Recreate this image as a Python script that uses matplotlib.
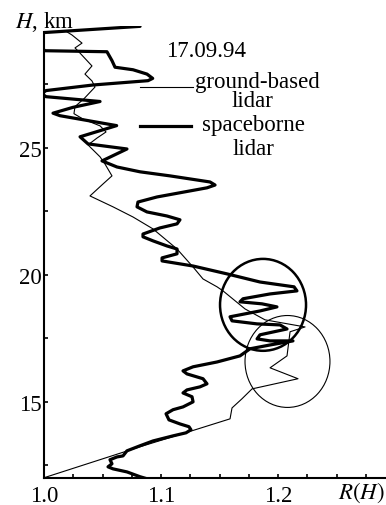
import matplotlib
matplotlib.use("Agg")
import matplotlib.pyplot as plt
from matplotlib.patches import Ellipse
from matplotlib.lines import Line2D
from matplotlib.ticker import MultipleLocator

plt.rcParams['font.family'] = ['Liberation Serif', 'DejaVu Serif']
plt.rcParams['mathtext.fontset'] = 'stix'

# ground-based lidar profile: scattering ratio R vs altitude H (km)
ground_R = [1.0197, 1.0239, 1.0325, 1.0265, 1.0299, 1.0410, 1.0350, 1.0410,
            1.0436, 1.0342, 1.0265, 1.0256, 1.0333, 1.0479, 1.0530, 1.0453,
            1.0376, 1.0479, 1.0521, 1.0581, 1.0504, 1.0393, 1.0590, 1.0761,
            1.0932, 1.1137, 1.1274, 1.1359, 1.1479, 1.1530, 1.1718, 1.1889,
            1.2231, 1.2103, 1.2077, 1.1932, 1.2171, 1.1778, 1.1692, 1.1607,
            1.1590, 1.1265, 1.0821, 1.0000]
ground_H = [29.57, 29.45, 29.13, 28.94, 28.78, 28.23, 27.91, 27.64,
            27.40, 26.94, 26.63, 26.35, 26.14, 25.87, 25.63, 25.39,
            25.12, 24.65, 24.37, 23.90, 23.58, 23.11, 22.68, 22.28,
            21.81, 21.02, 20.31, 19.84, 19.53, 19.37, 18.66, 18.23,
            17.95, 17.76, 16.81, 16.34, 15.91, 15.51, 15.12, 14.76,
            14.33, 13.86, 13.23, 12.01]

# spaceborne lidar profile
space_R = [1.0821, 0.9950, 0.9966, 0.9966, 1.0009, 1.0538, 1.0581, 1.0607,
           1.0761, 1.0880, 1.0929, 1.0889, 1.0419, 1.0017, 0.9980, 1.0017,
           1.0479, 1.0248, 1.0077, 1.0137, 1.0621, 1.0308, 1.0376, 1.0709,
           1.0496, 1.0624, 1.0821, 1.1077, 1.1419, 1.1462, 1.1393, 1.0966,
           1.0803, 1.0795, 1.0880, 1.1051, 1.1162, 1.1137, 1.0991, 1.0846,
           1.0846, 1.0932, 1.1051, 1.1137, 1.1137, 1.1009, 1.1009, 1.1274,
           1.1564, 1.1846, 1.2137, 1.2162, 1.1932, 1.1701, 1.1675, 1.1863,
           1.1991, 1.1846, 1.1590, 1.1607, 1.1821, 1.2017, 1.2077, 1.1846,
           1.1821, 1.1932, 1.2128, 1.1932, 1.1761, 1.1675, 1.1479, 1.1274,
           1.1188, 1.1222, 1.1359, 1.1393, 1.1333, 1.1222, 1.1188, 1.1265,
           1.1274, 1.1188, 1.1103, 1.1043, 1.1068, 1.1162, 1.1239, 1.1256,
           1.1214, 1.1103, 1.0932, 1.0821, 1.0709, 1.0675, 1.0624, 1.0564,
           1.0581, 1.0547, 1.0590, 1.0709, 1.0821, 1.0880]
space_H = [29.79, 29.53, 29.21, 28.98, 28.83, 28.79, 28.44, 28.18,
           28.08, 27.91, 27.74, 27.65, 27.48, 27.26, 27.14, 27.02,
           26.83, 26.60, 26.37, 26.27, 25.88, 25.44, 25.16, 24.96,
           24.49, 24.25, 24.06, 23.90, 23.66, 23.54, 23.43, 23.07,
           22.87, 22.68, 22.48, 22.32, 22.17, 22.01, 21.85, 21.61,
           21.50, 21.34, 21.14, 21.02, 20.83, 20.67, 20.55, 20.35,
           20.04, 19.72, 19.53, 19.37, 19.25, 19.06, 18.94, 18.86,
           18.74, 18.58, 18.35, 18.19, 18.07, 18.03, 17.87, 17.64,
           17.48, 17.40, 17.40, 17.24, 17.09, 16.81, 16.57, 16.38,
           16.22, 16.10, 15.91, 15.71, 15.59, 15.47, 15.35, 15.20,
           15.00, 14.80, 14.69, 14.53, 14.29, 14.13, 14.02, 13.90,
           13.78, 13.66, 13.46, 13.27, 13.07, 12.87, 12.83, 12.72,
           12.56, 12.44, 12.36, 12.24, 12.05, 11.97]

# highlighted layers: (center R, center H, width, height)
thick_ring = (1.1872, 18.82, 0.0735, 3.62)
thin_ring = (1.2081, 16.59, 0.0726, 3.62)

FS = 16.5
W, Hpx = 386, 506
fig = plt.figure(figsize=(W / 100, Hpx / 100), dpi=100)
ax = fig.add_axes([44 / W, 0.05336, 342 / W, 0.8931])

ax.plot(ground_R, ground_H, color='black', lw=0.8)
ax.plot(space_R, space_H, color='black', lw=2.3,
        solid_joinstyle='round', solid_capstyle='round')

cx, cy, w, h = thick_ring
ax.add_patch(Ellipse((cx, cy), w, h, fill=False, lw=1.8, ec='black'))
cx, cy, w, h = thin_ring
ax.add_patch(Ellipse((cx, cy), w, h, fill=False, lw=0.8, ec='black'))

ax.set_xlim(1.0, 1.2923)
ax.set_ylim(12.0, 29.8)
for s in ('top', 'right'):
    ax.spines[s].set_visible(False)
ax.spines['left'].set_bounds(12.0, 29.57)
ax.spines['left'].set_linewidth(1.5)
ax.spines['bottom'].set_linewidth(1.5)

ax.xaxis.set_minor_locator(MultipleLocator(0.025))
ax.set_xticks([1.0, 1.1, 1.2])
ax.set_xticklabels(['1.0', '1.1', '1.2'])
ax.set_yticks([15, 20, 25])
ax.yaxis.set_minor_locator(MultipleLocator(2.5))
ax.tick_params(which='both', direction='in', length=3, width=1.2,
               labelsize=FS)
ax.tick_params(axis='x', pad=5)
ax.tick_params(axis='y', pad=1.5)

# axis captions
fig.text(15 / W, 1 - 28 / Hpx, '$H$, km', fontsize=FS, va='baseline')
fig.text(338 / W, 1 - 499 / Hpx, '$R(H)$', fontsize=FS, va='baseline')

# date and legend
fig.text(166 / W, 1 - 57 / Hpx, '17.09.94', fontsize=FS, va='baseline')
fig.add_artist(Line2D([140 / W, 193 / W], [1 - 88 / Hpx] * 2,
                      color='black', lw=0.8))
fig.text(195 / W, 1 - 88 / Hpx, 'ground-based', fontsize=FS, va='baseline')
fig.text(252 / W, 1 - 107 / Hpx, 'lidar', fontsize=FS, va='baseline',
         ha='center')
fig.add_artist(Line2D([140 / W, 191 / W], [1 - 127 / Hpx] * 2,
                      color='black', lw=2.3))
fig.text(202 / W, 1 - 131 / Hpx, 'spaceborne', fontsize=FS, va='baseline')
fig.text(253 / W, 1 - 155 / Hpx, 'lidar', fontsize=FS, va='baseline',
         ha='center')

fig.savefig('out.png', dpi=100)
